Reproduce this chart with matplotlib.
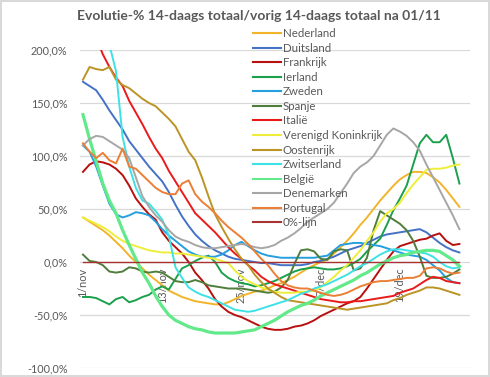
import numpy as np
import pandas as pd
import matplotlib
matplotlib.use("Agg")
import matplotlib.pyplot as plt

plt.rcParams['font.family'] = ['Lato', 'DejaVu Sans']

# days 1/nov .. 28/dec
dates = pd.date_range("2020-11-01", periods=58, freq="D")
tick_idx = [0, 12, 24, 36, 48]
tick_labels = ["1/nov", "13/nov", "25/nov", "7/dec", "19/dec"]

nederland = [42, 38, 34, 30, 25, 19, 13, 6, 0, -6,
             -12, -17, -22, -27, -30, -33, -35, -37, -38, -39,
             -40, -40, -38, -35, -32, -30, -28, -27, -25, -22,
             -20, -17, -14, -10, -6, -3, 0, 2, 8, 14,
             20, 27, 35, 42, 50, 58, 65, 72, 78, 82,
             85, 85, 84, 80, 75, 68, 60, 52]
duitsland = [170, 166, 162, 153, 143, 134, 125, 114, 106, 98,
             90, 83, 76, 66, 54, 43, 34, 26, 20, 15,
             11, 8, 5, 3, 2, 1, 0, -1, -1, -2,
             -3, -3, -3, -3, -2, 0, 1, 3, 5, 8,
             11, 13, 15, 18, 21, 24, 26, 27, 28, 29,
             30, 31, 28, 23, 18, 14, 11, 9]
frankrijk = [85, 92, 95, 94, 92, 88, 82, 72, 60, 52,
             45, 40, 28, 20, 14, 8, 0, -10, -17, -25,
             -35, -42, -47, -50, -52, -55, -58, -61, -63, -64,
             -64, -63, -61, -60, -58, -55, -51, -48, -45, -42,
             -39, -37, -33, -25, -16, -7, 2, 10, 15, 17,
             19, 21, 22, 25, 27, 20, 16, 17]
ierland = [-33, -33, -34, -37, -40, -35, -33, -38, -36, -33,
           -31, -26, -23, -26, -16, -6, -3, 1, 4, 6,
           0, -10, -15, -18, -20, -21, -23, -22, -20, -18,
           -15, -12, -9, -7, -6, -5, -6, -7, -7, -6,
           -4, -1, 3, 10, 16, 22, 35, 49, 60, 72,
           92, 112, 120, 113, 113, 120, 98, 74]
zweden = [110, 104, 90, 72, 55, 45, 42, 44, 47, 46,
          44, 38, 31, 25, 20, 15, 10, 7, 5, 5,
          5, 7, 11, 16, 19, 15, 11, 8, 6, 5,
          4, 4, 4, 4, 4, 4, 5, 6, 11, 16,
          17, 18, 18, 17, 16, 15, 13, 11, 9, 7,
          6, 5, 2, -3, -8, -15, -19, -20]
spanje = [7, 1, 0, -3, -9, -10, -9, -5, -6, -9,
          -10, -9, -10, -14, -18, -19, -19, -17, -19, -22,
          -23, -24, -25, -25, -25, -26, -27, -28, -29, -28,
          -24, -17, -2, 11, 12, 10, 3, 2, 10, 12,
          11, -8, -6, 4, 30, 48, 44, 40, 36, 30,
          20, 5, -13, -15, -15, -14, -11, -7]
italie = [255, 232, 212, 196, 184, 174, 166, 152, 141, 130,
          118, 107, 98, 86, 76, 66, 56, 46, 40, 34,
          28, 21, 14, 8, 3, -3, -8, -14, -18, -21,
          -23, -25, -27, -29, -31, -33, -35, -36, -37, -38,
          -38, -37, -37, -36, -35, -34, -33, -32, -29, -27,
          -25, -21, -17, -14, -15, -18, -19, -20]
vk = [42, 39, 36, 33, 29, 24, 20, 17, 15, 13,
      11, 10, 9, 9, 8, 8, 7, 6, 5, 4,
      3, 1, -1, -8, -14, -18, -21, -24, -26, -28,
      -29, -29, -29, -28, -28, -27, -24, -19, -14, -8,
      -3, 4, 11, 20, 28, 38, 46, 50, 56, 65,
      73, 80, 87, 88, 88, 89, 91, 92]
oostenrijk = [172, 184, 182, 181, 184, 172, 167, 164, 159, 154,
              150, 147, 141, 135, 128, 116, 104, 96, 80, 62,
              45, 33, 22, 12, 3, -3, -12, -19, -25, -29,
              -33, -36, -37, -38, -39, -40, -41, -42, -43, -44,
              -45, -44, -43, -42, -41, -40, -39, -36, -34, -31,
              -29, -27, -24, -24, -25, -27, -29, -31]
zwitserland = [330, 300, 270, 238, 205, 180, 118, 90, 70, 58,
               55, 48, 40, 25, -5, -15, -24, -28, -31, -33,
               -36, -39, -42, -45, -46, -47, -46, -44, -42, -40,
               -38, -36, -33, -30, -28, -25, -23, -21, -18, -15,
               -12, -8, -4, -1, 3, 7, 10, 12, 12, 11,
               10, 9, 8, 5, 0, -4, -6, -5]
belgie = [139, 116, 95, 74, 58, 46, 30, 16, 3, -10,
          -20, -32, -42, -50, -55, -58, -61, -63, -64, -66,
          -67, -67, -67, -67, -66, -65, -64, -61, -58, -55,
          -51, -47, -44, -41, -39, -36, -32, -29, -26, -23,
          -20, -17, -13, -10, -6, -2, 1, 4, 6, 7,
          9, 10, 11, 11, 10, 6, 2, -4]
denemarken = [110, 116, 119, 118, 114, 110, 106, 98, 80, 62,
              52, 44, 38, 30, 24, 21, 19, 16, 14, 13,
              13, 14, 15, 16, 17, 16, 14, 13, 14, 16,
              20, 23, 27, 32, 38, 42, 46, 50, 56, 65,
              74, 84, 90, 94, 100, 110, 120, 126, 123, 119,
              113, 105, 92, 80, 68, 56, 44, 31]
portugal = [112, 104, 98, 103, 96, 93, 107, 90, 88, 82,
            76, 70, 66, 64, 64, 74, 77, 64, 57, 52,
            46, 39, 33, 28, 23, 17, 10, 3, -3, -11,
            -18, -22, -24, -25, -25, -27, -29, -31, -32, -31,
            -29, -26, -23, -21, -19, -18, -18, -17, -16, -15,
            -15, -13, -6, -5, -6, -9, -11, -10]
nul_lijn = [0] * len(dates)

series = [
    ("Nederland", nederland, '#F2B52A', 1.4),
    ("Duitsland", duitsland, '#4472C4', 1.4),
    ("Frankrijk", frankrijk, '#B80F0F', 1.4),
    ("Ierland", ierland, '#1BA04C', 1.4),
    ("Zweden", zweden, '#259FE0', 1.4),
    ("Spanje", spanje, '#4F7D3B', 1.4),
    ("Italië", italie, '#EA1A1A', 1.4),
    ("Verenigd Koninkrijk", vk, '#EEEE3A', 1.4),
    ("Oostenrijk", oostenrijk, '#BC9426', 1.4),
    ("Zwitserland", zwitserland, '#3DE2E6', 1.4),
    ("België", belgie, '#62E98A', 2.3),
    ("Denemarken", denemarken, '#A6A6A6', 1.4),
    ("Portugal", portugal, '#EB7F35', 1.4),
    ("0%-lijn", nul_lijn, '#A83232', 1.0),
]

fig = plt.figure(figsize=(4.9, 3.77), dpi=100)
fig.patch.set_edgecolor('#D9D9D9')
fig.patch.set_linewidth(1.5)
ax = fig.add_axes([80 / 490, 9 / 377, 390 / 490, 318 / 377])

x = np.arange(len(dates))
for name, vals, col, lw in series:
    ax.plot(x, vals, color=col, lw=lw, label=name, solid_joinstyle='round')

ax.set_ylim(-100, 200)
ax.set_xlim(-0.45, 58.6)
ax.set_yticks([-100, -50, 0, 50, 100, 150, 200])
ax.set_yticklabels([f"{v:.1f}%".replace('.', ',') for v in [-100, -50, 0, 50, 100, 150, 200]])
ax.yaxis.grid(True, color='#D9D9D9', lw=0.9)
ax.set_axisbelow(True)
for s in ax.spines.values():
    s.set_visible(False)
ax.spines['bottom'].set_position(('data', 0))
ax.set_xticks(tick_idx)
ax.set_xticklabels(tick_labels, rotation=90, va='top', ha='center')
ax.tick_params(axis='both', length=0, colors='#595959', labelsize=7.8)
ax.tick_params(axis='y', pad=9)
ax.tick_params(axis='x', pad=4)

fig.text(259 / 490, 1 - 16 / 377, "Evolutie-% 14-daags totaal/vorig 14-daags totaal na 01/11",
         ha='center', va='center', fontsize=10, fontweight='bold', color='#595959')

leg = ax.legend(loc='upper left', bbox_to_anchor=(253 / 490, 1 - 28 / 377),
                bbox_transform=fig.transFigure, frameon=False, fontsize=8.3,
                handlelength=2.4, handletextpad=0.2, labelspacing=0.31,
                borderpad=0, borderaxespad=0)
for t in leg.get_texts():
    t.set_color('#595959')
for h in leg.get_lines():
    h.set_linewidth(1.5)

fig.savefig("out.png", dpi=100)
